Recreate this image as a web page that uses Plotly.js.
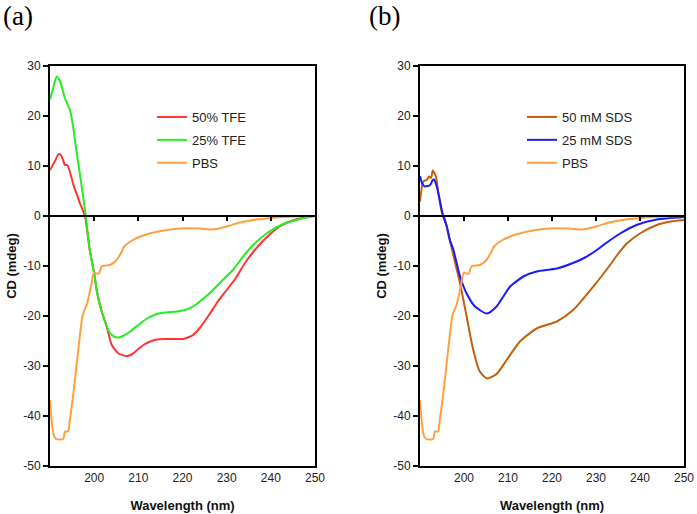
<!DOCTYPE html>
<html>
<head>
<meta charset="utf-8">
<script src="https://cdn.plot.ly/plotly-3.0.1.min.js"></script>
<style>body{margin:0;padding:0;background:#fff}#chart{width:697px;height:514px}</style>
</head>
<body>
<div id="chart"></div>
<script>
// ---- data ----
const tfe50X = [190,191,192,192.6,193.4,193.9,194.5,195.3,196,196.8,197.9,199,200,200.6,201.5,202.8,204,205.5,207.3,208.5,210,211.5,213,214.2,216,218,220.1,221.2,222.4,224,226,228,230,232,234,236,238,240,242,244,246,248,250];
const tfe50Y = [9.2,10.8,12.4,12.0,10.2,10.2,8.9,6.2,4.5,2.5,0,-6.8,-11.5,-15,-18.5,-22,-25.8,-27.5,-28,-27.7,-26.6,-25.6,-25,-24.7,-24.6,-24.6,-24.6,-24.3,-23.8,-22.3,-19.8,-17.1,-14.8,-12.5,-9.6,-7.2,-5.2,-3.5,-2.1,-1.2,-0.6,-0.2,0];

const tfe25X = [190,190.7,191.5,192.3,193.4,194.5,195,196,196.8,198.1,199,200,200.6,201.5,202.8,203.5,204.5,205.5,206.5,208,210.4,212,214.1,216,218.7,220.5,222.4,224.5,226.9,229,231.5,234,236,239,242.8,246.6,250];
const tfe25Y = [23.3,25.5,27.9,26.9,23.5,21.2,19.2,13.0,8.2,0,-6.8,-11.5,-15,-18.5,-22,-23.3,-24.1,-24.3,-24,-23.2,-21.5,-20.5,-19.6,-19.3,-19.1,-18.8,-18.1,-16.7,-14.8,-12.9,-10.7,-7.8,-5.8,-3.5,-1.6,-0.6,0];

const pbsX = [190,190.75,191.4,193,193.4,194.1,194.5,195.3,196.4,197.4,198.4,199.4,199.95,200.6,201.1,201.7,203.6,205.1,206.2,206.8,208.8,210.5,212.6,214.5,216.4,219.4,223.9,226.9,230,233,236,239,242.8,246,250];
const pbsY = [-36.8,-43.5,-44.6,-44.6,-43.1,-43.1,-40.8,-35.5,-26.8,-19.8,-17.5,-13.5,-11.3,-11.5,-11.5,-10.1,-9.8,-8.8,-7.2,-6.1,-4.8,-4.1,-3.5,-3.1,-2.8,-2.5,-2.5,-2.7,-2.1,-1.3,-0.8,-0.5,-0.2,-0.1,0];

const sds50X = [190,190.75,191.5,192.1,192.5,192.9,193.2,193.6,194.2,194.9,195.7,196.4,197.3,199.1,200.6,202.1,203.6,205.2,207.4,209.7,212.7,216.5,221.1,224.8,229.4,233.2,235,237,240,243.8,247,250];
const sds50Y = [2.9,6.9,7.2,7.9,7.6,9.1,8.7,8.0,4.5,0.9,-0.8,-3.5,-6.8,-13.5,-20.1,-26.8,-31.1,-32.5,-31.6,-28.8,-25.1,-22.5,-21.1,-18.8,-14.1,-9.8,-7.6,-5.5,-3.5,-1.8,-1.1,-0.8];

const sds25X = [190,190.5,191.1,192.3,192.9,193.2,193.8,194.5,195.2,196.1,196.8,197.6,199.1,200.6,202.5,205.2,207.4,210.5,213.5,216.5,221.1,225.6,227.5,230.2,232,235.5,239.2,243.8,250];
const sds25Y = [8.0,6.5,5.9,6.2,7.2,7.3,5.9,3.2,0.2,-2.1,-4.8,-6.8,-12.1,-15.5,-18.1,-19.5,-18.1,-14.1,-12.1,-11.1,-10.5,-9.1,-8.3,-6.8,-5.6,-3.5,-1.8,-0.7,-0.2];

const xTicks = [200,210,220,230,240,250];
const xZeroTicks = [200,210,220,230,240];
const yTicks = [-50,-40,-30,-20,-10,0,10,20,30];
const yTickText = ["-50","-40","-30","-20","-10","0","10","20","30"];
const namesA = ["50% TFE","25% TFE","PBS"];
const namesB = ["50 mM SDS","25 mM SDS","PBS"];

// ---- styling ----
const cRed = "#ff3333", cGreen = "#22ee22", cOrange = "#ffa040", cBrown = "#c2600f", cBlue = "#1a1aff";
const LW = 2;
function tr(x, y, name, color, xa, ya, lg, grp) {
  return {x: x, y: y, name: name, type: "scatter", mode: "lines",
    line: {color: color, width: LW, shape: "spline", smoothing: 0.6}, xaxis: xa, yaxis: ya, legend: lg, legendgroup: grp};
}
const traces = [
  tr(tfe50X, tfe50Y, namesA[0], cRed, "x", "y", "legend", "a1"),
  tr(tfe25X, tfe25Y, namesA[1], cGreen, "x", "y", "legend", "a2"),
  tr(pbsX, pbsY, namesA[2], cOrange, "x", "y", "legend", "a3"),
  tr(sds50X, sds50Y, namesB[0], cBrown, "x2", "y2", "legend2", "b1"),
  tr(sds25X, sds25Y, namesB[1], cBlue, "x2", "y2", "legend2", "b2"),
  tr(pbsX, pbsY, namesB[2], cOrange, "x2", "y2", "legend2", "b3"),
  // carriers for the zero-line tick axes
  {x: [], y: [], xaxis: "x3", yaxis: "y", showlegend: false, hoverinfo: "skip"},
  {x: [], y: [], xaxis: "x4", yaxis: "y2", showlegend: false, hoverinfo: "skip"}
];

const FONT = "Liberation Sans, Arial, sans-serif";
const W = 697, H = 514, ML = 50, MR = 13, MT = 66, MB = 48;
const PW = W - ML - MR;
const domA = [0, (315 - ML) / PW];
const domB = [(420 - ML) / PW, 1];
const yr = [-50, 30];
const zeroPos = (0 - yr[0]) / (yr[1] - yr[0]);

function xax(dom, anchor) {
  return {domain: dom, anchor: anchor, range: [190, 250], tickvals: xTicks,
    ticks: "", showline: true, mirror: true, linecolor: "#000", linewidth: 2,
    showgrid: false, zeroline: false,
    tickfont: {family: FONT, size: 12, color: "#222"},
    title: {text: "<b>Wavelength (nm)</b>", font: {family: FONT, size: 13, color: "#111"}, standoff: 16}};
}
function xzero(over) {
  return {overlaying: over, anchor: "free", position: zeroPos, range: [190, 250],
    tickvals: xZeroTicks, ticks: "outside", ticklen: 4, tickwidth: 2, tickcolor: "#000",
    showticklabels: false, showline: true, linecolor: "#000", linewidth: 2,
    showgrid: false, zeroline: false};
}
function yax(dom, anchor) {
  return {domain: [0, 1], anchor: anchor, range: yr, tickvals: yTicks, ticktext: yTickText,
    ticks: "outside", ticklen: 5, tickwidth: 2, tickcolor: "#000",
    showline: true, mirror: true, linecolor: "#000", linewidth: 2,
    showgrid: false, zeroline: false,
    tickfont: {family: FONT, size: 12, color: "#222"},
    title: {text: "<b>CD (mdeg)</b>", font: {family: FONT, size: 13, color: "#111"}, standoff: 4}};
}
function leg(xpx) {
  return {x: (xpx - ML) / PW, y: (H - MB - 102) / (H - MT - MB), xanchor: "left", yanchor: "top",
    bgcolor: "rgba(0,0,0,0)", borderwidth: 0, tracegroupgap: 3,
    font: {family: FONT, size: 13, color: "#222"}};
}

const layout = {
  width: W, height: H, margin: {l: ML, r: MR, t: MT, b: MB},
  paper_bgcolor: "#fff", plot_bgcolor: "#fff", showlegend: true,
  xaxis: xax(domA, "y"), yaxis: yax(domA, "x"),
  xaxis2: xax(domB, "y2"), yaxis2: yax(domB, "x2"),
  xaxis3: Object.assign(xzero("x"), {domain: domA}),
  xaxis4: Object.assign(xzero("x2"), {domain: domB}),
  legend: leg(152), legend2: leg(522),
  annotations: [
    {text: "(a)", xref: "paper", yref: "paper", x: (1 - ML) / PW, y: 1 + (MT + 1) / (H - MT - MB),
      xanchor: "left", yanchor: "top", showarrow: false,
      font: {family: "Liberation Serif, Times New Roman, serif", size: 27, color: "#000"}},
    {text: "(b)", xref: "paper", yref: "paper", x: (367 - ML) / PW, y: 1 + (MT + 1) / (H - MT - MB),
      xanchor: "left", yanchor: "top", showarrow: false,
      font: {family: "Liberation Serif, Times New Roman, serif", size: 27, color: "#000"}}
  ]
};
Plotly.newPlot("chart", traces, layout, {displayModeBar: false, staticPlot: true});
</script>
</body>
</html>
